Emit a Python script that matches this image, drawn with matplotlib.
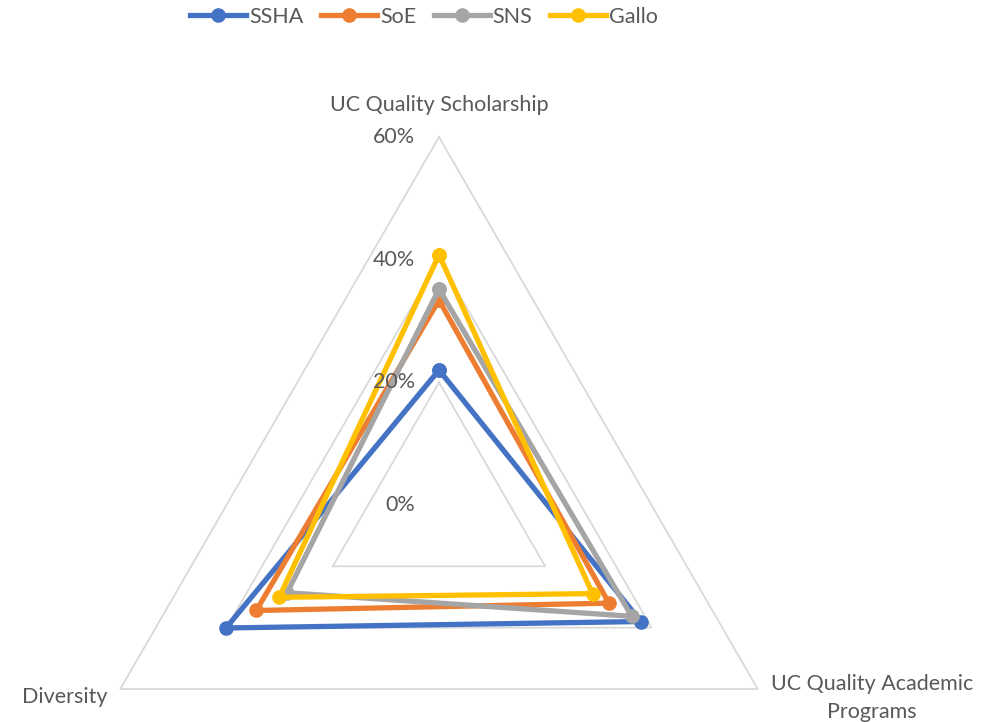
import numpy as np
import matplotlib.pyplot as plt

categories = ["UC Quality Scholarship", "UC Quality Academic\nPrograms", "Diversity"]
series_names = ["SSHA", "SoE", "SNS", "Gallo"]
ssha = [22.0, 38.0, 40.1]
soe = [33.4, 32.0, 34.4]
sns_vals = [35.2, 36.3, 28.6]
gallo = [40.8, 28.9, 30.1]
radial_ticks = [0, 20, 40, 60]

colors = ["#4472C4", "#ED7D31", "#A5A5A5", "#FFC000"]
text_color = "#595959"
grid_color = "#D9D9D9"
plt.rcParams['font.family'] = ['Lato', 'DejaVu Sans']
fs = 15.5

fig = plt.figure(figsize=(9.87, 7.22), dpi=100)
# center of the radar sits at (439, 505) px, 60% ring at 368 px radius
cx, cy, rad = 439, 505, 368
W, H = 987, 722
ax = fig.add_axes([(cx - rad) / W, (H - cy - rad) / H, 2 * rad / W, 2 * rad / H],
                  projection='polar')
ax.set_theta_offset(np.pi / 2)
ax.set_theta_direction(-1)
ax.set_ylim(0, 60)
ax.grid(False)
ax.set_xticks([])
ax.set_yticks([])
ax.spines['polar'].set_visible(False)
ax.patch.set_alpha(0)

theta = np.linspace(0, 2 * np.pi, len(categories), endpoint=False)
theta_closed = np.append(theta, theta[0])

# straight triangular grid rings
for r in radial_ticks[1:]:
    ax.plot(theta_closed, [r] * len(theta_closed), color=grid_color, lw=1.3,
            zorder=1, clip_on=False)

for name, vals, col in zip(series_names, [ssha, soe, sns_vals, gallo], colors):
    v = np.append(vals, vals[0])
    ax.plot(theta_closed, v, color=col, lw=3.8, marker='o', markersize=9.5,
            label=name, zorder=3, clip_on=False, solid_joinstyle='miter')

for r in radial_ticks:
    ax.annotate(f"{r}%", xy=(0, r), xytext=(-24, 0), textcoords='offset pixels',
                ha='right', va='center', fontsize=fs, color=text_color,
                annotation_clip=False)

ax.annotate(categories[0], xy=(theta[0], 60), xytext=(0, 32), textcoords='offset pixels',
            ha='center', va='center', fontsize=fs, color=text_color, annotation_clip=False)
ax.annotate(categories[1], xy=(theta[1], 60), xytext=(114, -9), textcoords='offset pixels',
            ha='center', va='center', fontsize=fs, color=text_color, annotation_clip=False,
            linespacing=1.55)
ax.annotate(categories[2], xy=(theta[2], 60), xytext=(-13, -8), textcoords='offset pixels',
            ha='right', va='center', fontsize=fs, color=text_color, annotation_clip=False)

fig.legend(loc='center', bbox_to_anchor=(424 / W, 1 - 17 / H), ncol=4, frameon=False,
           fontsize=fs, labelcolor=text_color, handlelength=2.6, handletextpad=0.15,
           columnspacing=0.8)

fig.savefig("out.png", dpi=100)
